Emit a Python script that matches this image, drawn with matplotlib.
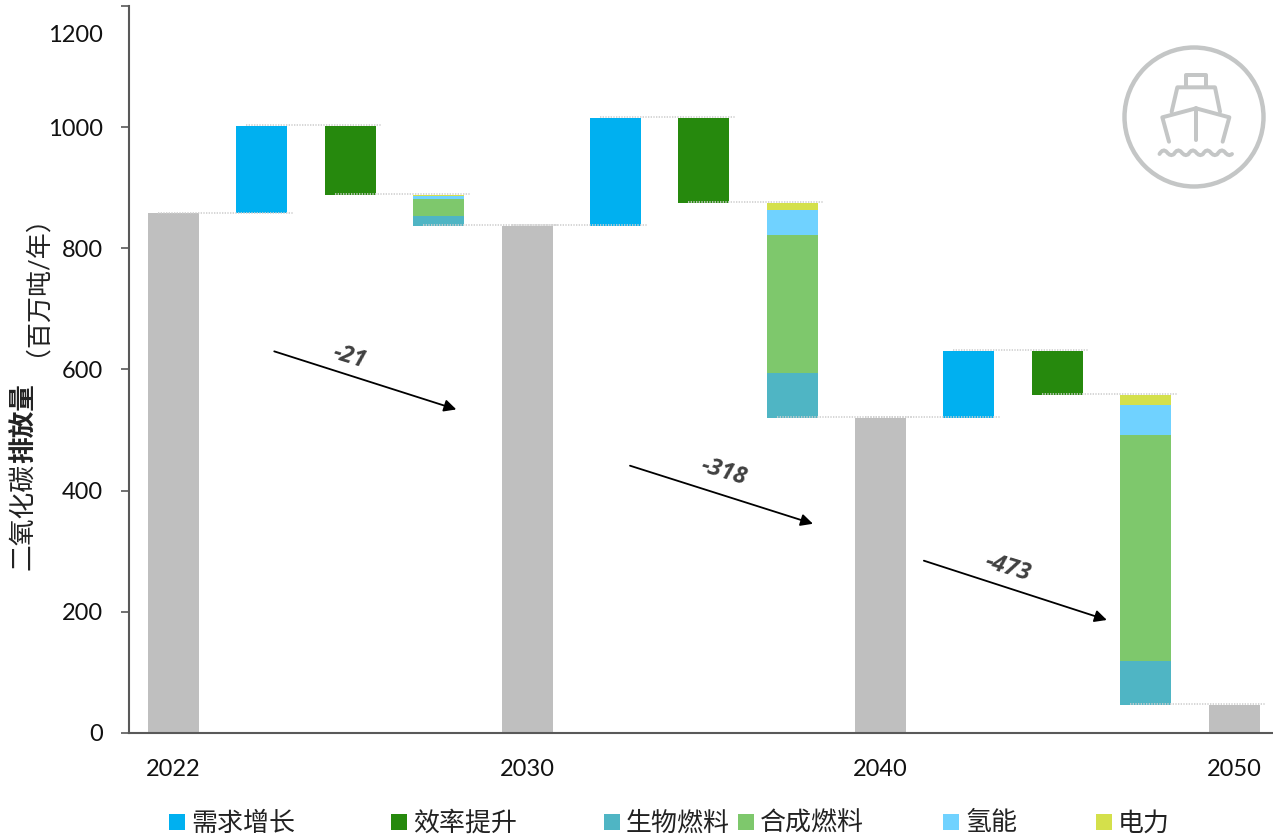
import matplotlib
matplotlib.use("Agg")
import matplotlib.pyplot as plt
from matplotlib.patches import Rectangle, Circle, PathPatch
from matplotlib.path import Path
from matplotlib.transforms import ScaledTranslation

plt.rcParams["font.family"] = ["Lato", "Noto Sans CJK SC", "DejaVu Sans"]

# values (million t / year)
years = ["2022", "2030", "2040", "2050"]
totals = [858, 838, 520, 46]
demand = [145, 178, 111]
efficiency = [114, 140, 73]
biofuel = [16, 74, 73]
synfuel = [27, 229, 372]
hydrogen = [6, 41, 51]
power = [2, 12, 16]
changes = ["-21", "-318", "-473"]
yticks = [0, 200, 400, 600, 800, 1000, 1200]

legend_names = ["需求增长", "效率提升", "生物燃料", "合成燃料", "氢能", "电力"]

GREY = "#BFBFBF"
BLUE = "#00B0F0"
GREEN = "#26890D"
TEAL = "#4FB5C4"
LIME = "#7EC86C"
SKY = "#70D2FF"
YELLOW = "#D4E04B"
AXIS = "#595959"
ICON = "#C4C6C6"
colors = [BLUE, GREEN, TEAL, LIME, SKY, YELLOW]

W, H = 1273, 839
width = 0.577

fig = plt.figure(figsize=(W / 100, H / 100), dpi=100)
ax = fig.add_axes([129.3 / W, 1 - 732.5 / H, (W - 129.3) / W, (732.5 - 6.5) / H])
ax.set_xlim(-0.5, 12.44)
ax.set_ylim(0, 1200)


def connector(i, level):
    ax.plot([i - 0.175, i + 1.36], [level + 1, level + 1], color="#CFCFCF", lw=1.2,
            ls=(0, (0.8, 0.8)), zorder=3)


for n in range(4):
    x = n * 4
    ax.bar(x, totals[n], width, color=GREY, zorder=2)
    if n == 3:
        break
    start = totals[n]
    top = start + demand[n]
    after = top - efficiency[n]
    ax.bar(x + 1, demand[n], width, bottom=start, color=BLUE, zorder=2)
    ax.bar(x + 2, efficiency[n], width, bottom=after, color=GREEN, zorder=2)
    base = totals[n + 1]
    for vals, col in zip([biofuel, synfuel, hydrogen, power], [TEAL, LIME, SKY, YELLOW]):
        ax.bar(x + 3, vals[n], width, bottom=base, color=col, zorder=2)
        base += vals[n]
    connector(x, start)
    connector(x + 1, top)
    connector(x + 2, after)
    connector(x + 3, totals[n + 1])

# trend arrows
arrows = [((1.14, 630), (3.2, 534)), ((5.165, 441), (7.235, 345)), ((8.49, 284), (10.56, 186))]
label_pos = [(1.99, 620), (6.22, 431), (9.44, 272)]
for (a, b), txt, pos in zip(arrows, changes, label_pos):
    ax.annotate("", xy=b, xytext=a,
                arrowprops=dict(arrowstyle="-|>", color="black", lw=1.3, mutation_scale=18,
                                shrinkA=0, shrinkB=0), zorder=5)
    ax.text(pos[0], pos[1], txt, rotation=-17, ha="center", va="center", fontsize=17,
            family="Open Sans", fontweight="bold", fontstyle="italic", color="#404040", zorder=5)

for s in ["top", "right"]:
    ax.spines[s].set_visible(False)
for s in ["left", "bottom"]:
    ax.spines[s].set_color(AXIS)
    ax.spines[s].set_linewidth(1.5)

ax.set_yticks(yticks)
ax.set_yticklabels([str(v) for v in yticks], fontsize=17, color="#111111")
ax.tick_params(axis="y", length=6, width=1.2, color=AXIS, pad=13)
# the top label sits well below its tick in the original
top_label = ax.get_yticklabels()[-1]
top_label.set_transform(top_label.get_transform() + ScaledTranslation(0, -27.5 / 100, fig.dpi_scale_trans))

ax.set_xticks([0, 4, 8, 12])
ax.set_xticklabels(years, fontsize=17, color="#111111")
ax.tick_params(axis="x", length=0, pad=19)

# overlay in pixel coordinates for legend, axis title and icon
ov = fig.add_axes([0, 0, 1, 1], facecolor="none")
ov.set_xlim(0, W)
ov.set_ylim(H, 0)
ov.axis("off")

box_x = [169, 391, 604, 738, 943, 1096]
for bx, name, col in zip(box_x, legend_names, colors):
    ov.add_patch(Rectangle((bx, 814), 16, 16, color=col, lw=0))
    ov.text(bx + 22, 823, name, fontsize=18.7, va="center", ha="left", color="#222222")

ov.text(23, 570, "二氧化碳", rotation=90, ha="center", va="bottom", fontsize=19.3, color="#222222")
ov.text(23, 463, "排放量", rotation=90, ha="center", va="bottom", fontsize=19.2,
        fontweight="bold", color="#222222")
ov.text(23, 356, "（百万吨/年）", rotation=90, ha="center", va="bottom", fontsize=18.7, color="#222222")


# ship icon, traced in a 3x crop whose corner is (1100, 30)
def ship(points, lw=4):
    xs = [1100 + p[0] / 3 for p in points]
    ys = [30 + p[1] / 3 for p in points]
    ov.plot(xs, ys, color=ICON, lw=lw * 0.72, solid_capstyle="round", solid_joinstyle="round")


ov.add_patch(Circle((1194, 117), 69.5, fill=False, ec=ICON, lw=3.2))
ship([(257, 168), (257, 135), (318, 135), (318, 168)])
ship([(215, 245), (232, 172), (345, 172), (360, 245)])
ship([(207, 335), (187, 262), (288, 235), (388, 262), (368, 335)])
ship([(288, 235), (288, 330)])

verts = [(1159.5, 154)]
codes = [Path.MOVETO]
hump_x = [1159.5, 1174, 1188.5, 1203, 1217.5, 1232]
for x0, x1 in zip(hump_x[:-1], hump_x[1:]):
    mid = (x0 + x1) / 2
    verts += [(x0 + 3.5, 148), (mid, 152), (x1 - 3.5, 157), (x1, 154)]
    codes += [Path.CURVE3] * 4
ov.add_patch(PathPatch(Path(verts, codes), fill=False, ec=ICON, lw=2.8, capstyle="round"))

fig.savefig("out.png", dpi=100)
